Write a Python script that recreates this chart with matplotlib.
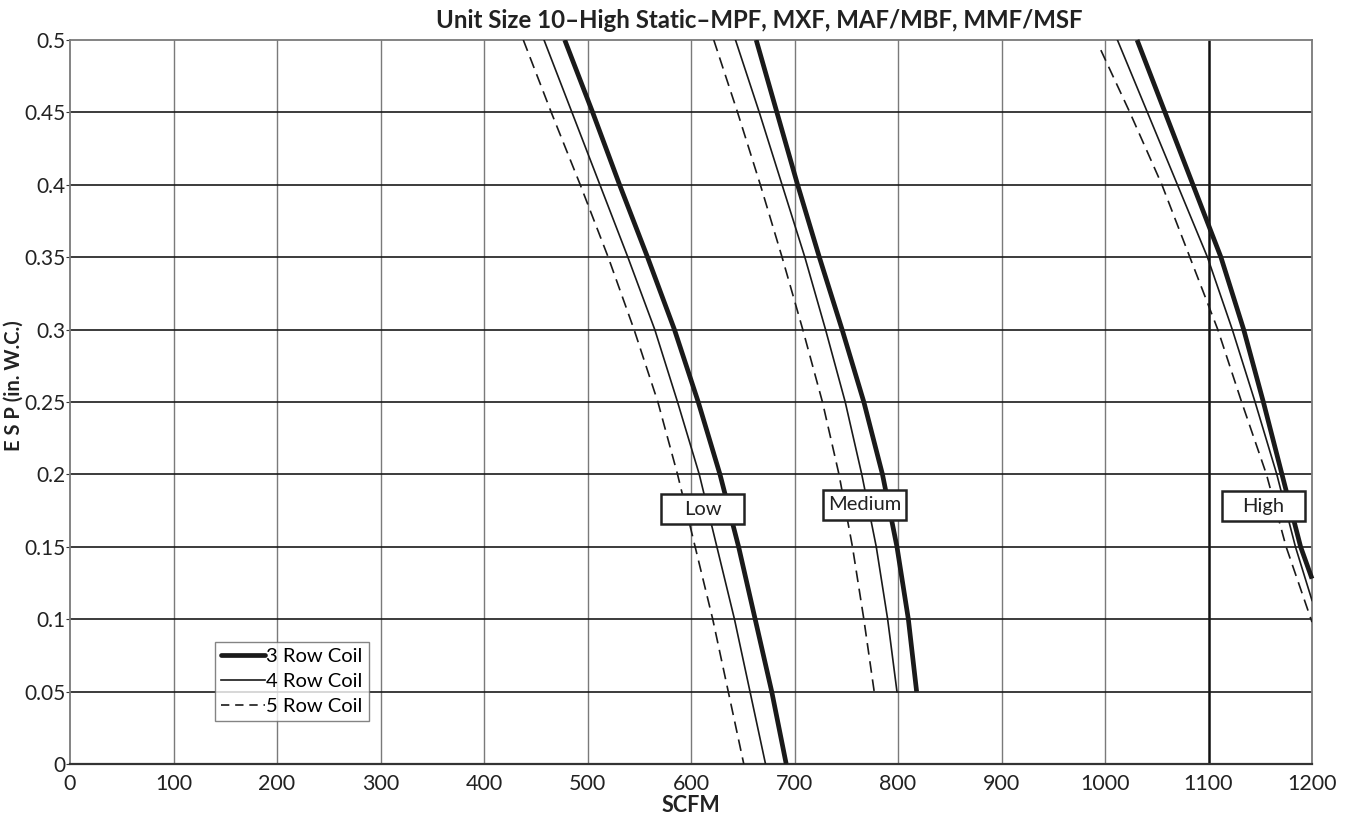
import matplotlib
matplotlib.use("Agg")
import matplotlib.pyplot as plt
from matplotlib.patches import Rectangle
from matplotlib.lines import Line2D

plt.rcParams['font.family'] = ['Lato', 'DejaVu Sans']

# ---- data (SCFM vs ESP) ----
low_esp = [0.5, 0.45, 0.4, 0.35, 0.3, 0.25, 0.2, 0.15, 0.1, 0.05, 0.0]
low_3row = [478, 505, 531, 558, 584, 607, 628, 646, 662, 678, 692]
low_4row = [458, 485, 512, 539, 565, 587, 608, 625, 642, 657, 672]
low_5row = [438, 465, 493, 520, 545, 568, 587, 604, 621, 636, 651]

med_esp = [0.5, 0.45, 0.4, 0.35, 0.3, 0.25, 0.2, 0.15, 0.1, 0.05]
med_3row = [663, 683, 703, 724, 746, 767, 785, 799, 810, 818]
med_4row = [643, 666, 688, 710, 730, 749, 765, 779, 790, 799]
med_5row = [622, 645, 667, 688, 708, 727, 743, 756, 767, 777]

high_3row_esp = [0.5, 0.45, 0.4, 0.35, 0.3, 0.25, 0.2, 0.15, 0.128]
high_3row = [1031, 1058, 1085, 1112, 1134, 1153, 1171, 1189, 1200]
high_4row_esp = [0.5, 0.45, 0.4, 0.35, 0.3, 0.25, 0.2, 0.15, 0.113]
high_4row = [1012, 1041, 1070, 1099, 1123, 1145, 1166, 1184, 1200]
high_5row_esp = [0.493, 0.45, 0.4, 0.35, 0.3, 0.25, 0.2, 0.15, 0.098]
high_5row = [996, 1024, 1055, 1082, 1109, 1132, 1156, 1175, 1200]

speed_labels = ["Low", "Medium", "High"]
speed_label_x = [611, 768, 1153]
speed_label_y = [0.176, 0.179, 0.178]

legend_labels = ["3 Row Coil", "4 Row Coil", "5 Row Coil"]

x_ticks = list(range(0, 1201, 100))
y_ticks = [0, 0.05, 0.1, 0.15, 0.2, 0.25, 0.3, 0.35, 0.4, 0.45, 0.5]
y_ticklabels = ["0", "0.05", "0.1", "0.15", "0.2", "0.25", "0.3", "0.35", "0.4", "0.45", "0.5"]

title = "Unit Size 10\u2013High Static\u2013MPF, MXF, MAF/MBF, MMF/MSF"

# ---- figure ----
W, H = 1353, 816
fig = plt.figure(figsize=(W / 100, H / 100), dpi=100)
ax = fig.add_axes([70 / W, 1 - 764 / H, (1312 - 70) / W, (764 - 40) / H])
ax.set_xlim(0, 1200)
ax.set_ylim(0, 0.5)

# grid
for xv in x_ticks[1:-1]:
    if xv == 1100:
        ax.axvline(xv, color='#111111', lw=1.8, zorder=1)
    else:
        ax.axvline(xv, color='#7a7a7a', lw=1.0, zorder=1)
for yv in y_ticks[1:-1]:
    ax.axhline(yv, color='#1a1a1a', lw=1.2, zorder=1)

for s in ax.spines.values():
    s.set_color('#7a7a7a')
    s.set_linewidth(1.3)
ax.spines['bottom'].set_color('#333333')
ax.spines['bottom'].set_linewidth(1.6)

thick = dict(color='#1a1a1a', lw=3.4, solid_capstyle='butt', solid_joinstyle='round', zorder=3)
thin = dict(color='#1a1a1a', lw=1.2, solid_joinstyle='round', zorder=3)
dash = dict(color='#1a1a1a', lw=1.2, dashes=(7, 4), zorder=3)

ax.plot(low_3row, low_esp, **thick)
ax.plot(low_4row, low_esp, **thin)
ax.plot(low_5row, low_esp, **dash)
ax.plot(med_3row, med_esp, **thick)
ax.plot(med_4row, med_esp, **thin)
ax.plot(med_5row, med_esp, **dash)
ax.plot(high_3row, high_3row_esp, clip_on=False, **thick)
ax.plot(high_4row, high_4row_esp, **thin)
ax.plot(high_5row, high_5row_esp, **dash)

# speed labels
box_w, box_h = 80, 0.021
for lab, lx, ly in zip(speed_labels, speed_label_x, speed_label_y):
    ax.add_patch(Rectangle((lx - box_w / 2, ly - box_h / 2), box_w, box_h,
                           facecolor='white', edgecolor='#222222', lw=1.8, zorder=5))
    ax.text(lx, ly, lab, ha='center', va='center', fontsize=14.5, color='#222222', zorder=6)

# ticks
ax.set_xticks(x_ticks)
ax.set_xticklabels([str(v) for v in x_ticks], fontsize=15.5, color='#222222')
ax.set_yticks(y_ticks)
ax.set_yticklabels(y_ticklabels, fontsize=15, color='#222222')
ax.tick_params(axis='x', length=0, pad=7)
ax.tick_params(axis='y', length=3, pad=0.5, color='#333333')

ax.set_xlabel("SCFM", fontsize=15.5, fontweight='bold', color='#222222', labelpad=1)
ax.set_ylabel("E S P (in. W.C.)", fontsize=14.5, fontweight='bold', color='#222222')
ax.yaxis.set_label_coords((24 - 70) / 1242, 0.523)

fig.text(759 / W, 1 - 21 / H, title, ha='center', va='center', fontsize=17.3,
         fontweight='bold', color='#222222')

handles = [Line2D([], [], color='#1a1a1a', lw=3.4, solid_capstyle='round'),
           Line2D([], [], color='#1a1a1a', lw=1.2),
           Line2D([], [], color='#1a1a1a', lw=1.2, dashes=(5, 3.5))]
leg = ax.legend(handles, legend_labels, loc='upper left',
                bbox_to_anchor=((215 - 70) / 1242, (764 - 642) / 724),
                borderaxespad=0, fontsize=14.5, handlelength=2.2, handletextpad=0.05,
                labelspacing=0.4, borderpad=0.3, frameon=True, fancybox=False)
leg.get_frame().set_edgecolor('#666666')
leg.get_frame().set_linewidth(1.0)
leg.set_zorder(7)

fig.savefig("out.png", dpi=100)
